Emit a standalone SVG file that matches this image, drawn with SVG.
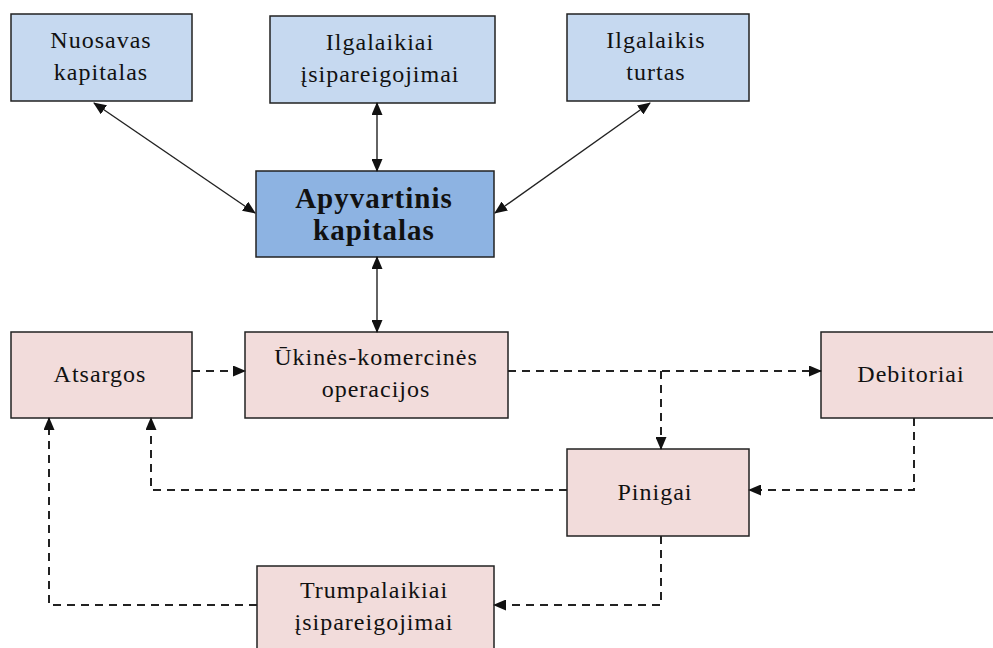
<svg xmlns="http://www.w3.org/2000/svg" width="993" height="648" viewBox="0 0 993 648">
<style>
.box{stroke:#222;stroke-width:1.5}
.blue{fill:#c6d9f0}
.dark{fill:#8db3e2}
.pink{fill:#f2dcdb}
text{font-family:"Liberation Serif","Times New Roman",serif;font-size:24px;letter-spacing:1px;fill:#111;text-anchor:middle}
.bold{font-weight:bold;font-size:29px;letter-spacing:1px}
.solid{fill:none;stroke:#222;stroke-width:1.4}
.dash{fill:none;stroke:#222;stroke-width:2;stroke-dasharray:8,6}
</style>
<defs>
<marker id="ah" markerWidth="13" markerHeight="11" refX="12" refY="5.5" orient="auto-start-reverse" markerUnits="userSpaceOnUse">
<path d="M0,0 L13,5.5 L0,11 z" fill="#111"/>
</marker>
</defs>
<rect width="993" height="648" fill="#fff"/>
<g id="n-nuosavas"><rect class="box blue" x="11" y="14" width="181" height="87"/><text x="101" y="48">Nuosavas</text><text x="101" y="80">kapitalas</text></g>
<g id="n-ilgalaikiai"><rect class="box blue" x="270" y="16" width="225" height="87"/><text x="380" y="50">Ilgalaikiai</text><text x="380" y="82">įsipareigojimai</text></g>
<g id="n-ilgturtas"><rect class="box blue" x="567" y="14" width="182" height="87"/><text x="656" y="48">Ilgalaikis</text><text x="656" y="80">turtas</text></g>
<g id="n-apyvartinis"><rect class="box dark" x="256" y="171" width="238" height="86"/><text class="bold" x="374" y="208">Apyvartinis</text><text class="bold" x="374" y="240">kapitalas</text></g>
<g id="n-atsargos"><rect class="box pink" x="11" y="332" width="181" height="86"/><text x="100" y="382">Atsargos</text></g>
<g id="n-ukines"><rect class="box pink" x="245" y="332" width="263" height="86"/><text x="376" y="365">Ūkinės-komercinės</text><text x="376" y="397">operacijos</text></g>
<g id="n-debitoriai"><rect class="box pink" x="821" y="332" width="180" height="86"/><text x="911" y="382">Debitoriai</text></g>
<g id="n-pinigai"><rect class="box pink" x="567" y="449" width="182" height="87"/><text x="655" y="500">Pinigai</text></g>
<g id="n-trumpalaikiai"><rect class="box pink" x="257" y="566" width="237" height="100"/><text x="374" y="598">Trumpalaikiai</text><text x="374" y="630">įsipareigojimai</text></g>
<g id="connectors">
<line class="solid" x1="94" y1="103" x2="255" y2="213" marker-start="url(#ah)" marker-end="url(#ah)"/>
<line class="solid" x1="377" y1="103" x2="377" y2="171" marker-start="url(#ah)" marker-end="url(#ah)"/>
<line class="solid" x1="650" y1="103" x2="495" y2="213" marker-start="url(#ah)" marker-end="url(#ah)"/>
<line class="solid" x1="377" y1="257" x2="377" y2="332" marker-start="url(#ah)" marker-end="url(#ah)"/>
<path class="dash" d="M192,371 H245" marker-end="url(#ah)"/>
<path class="dash" d="M508,371 H821" marker-end="url(#ah)"/>
<path class="dash" d="M661,371 V449" marker-end="url(#ah)"/>
<path class="dash" d="M914,418 V490 H749" marker-end="url(#ah)"/>
<path class="dash" d="M567,490 H151 V418" marker-end="url(#ah)"/>
<path class="dash" d="M661,536 V605 H494" marker-end="url(#ah)"/>
<path class="dash" d="M257,605 H49 V418" marker-end="url(#ah)"/>
</g>
</svg>
